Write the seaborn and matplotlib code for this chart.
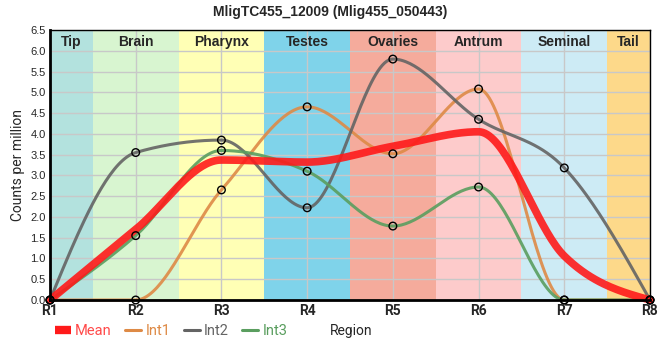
import numpy as np
import pandas as pd
import matplotlib
matplotlib.use('Agg')
import matplotlib.pyplot as plt
import seaborn as sns

# Data
regions = ['R1', 'R2', 'R3', 'R4', 'R5', 'R6', 'R7', 'R8']
mean_vals = [0.0, 1.70, 3.37, 3.32, 3.70, 4.05, 1.06, 0.0]
int1_vals = [0.0, 0.0, 2.65, 4.65, 3.52, 5.08, 0.0, 0.0]
int2_vals = [0.0, 3.55, 3.85, 2.22, 5.80, 4.35, 3.18, 0.0]
int3_vals = [0.0, 1.55, 3.60, 3.10, 1.78, 2.72, 0.0, 0.0]

tissues = ['Tip', 'Brain', 'Pharynx', 'Testes', 'Ovaries', 'Antrum', 'Seminal', 'Tail']
tissue_colors = ['#b3e2de', '#d8f5d0', '#ffffb5', '#7fd3ea', '#f5ab9c', '#fdcbcb', '#cdebf5', '#fdd98a']

series_colors = {'Mean': '#ff1a1a', 'Int1': '#de8a46', 'Int2': '#646464', 'Int3': '#5a9e5f'}


def monotone(x, y, n=40):
    # monotone cubic (like d3 curveMonotoneX)
    x = np.asarray(x, float)
    y = np.asarray(y, float)
    h = np.diff(x)
    s = np.diff(y) / h
    t = np.zeros(len(x))
    for i in range(1, len(x) - 1):
        p = (s[i - 1] * h[i] + s[i] * h[i - 1]) / (h[i - 1] + h[i])
        t[i] = (np.sign(s[i - 1]) + np.sign(s[i])) * min(abs(s[i - 1]), abs(s[i]), 0.5 * abs(p))
    t[0] = (3 * s[0] - t[1]) / 2
    t[-1] = (3 * s[-1] - t[-2]) / 2
    xs, ys = [], []
    for i in range(len(x) - 1):
        u = np.linspace(0, 1, n, endpoint=(i == len(x) - 2))
        h00 = 2 * u**3 - 3 * u**2 + 1
        h10 = u**3 - 2 * u**2 + u
        h01 = -2 * u**3 + 3 * u**2
        h11 = u**3 - u**2
        xs.append(x[i] + u * h[i])
        ys.append(h00 * y[i] + h10 * h[i] * t[i] + h01 * y[i + 1] + h11 * h[i] * t[i + 1])
    return np.concatenate(xs), np.concatenate(ys)


sns.set_style('white')
plt.rcParams['font.family'] = ['Liberation Sans', 'DejaVu Sans']

fig = plt.figure(figsize=(6.6, 3.6), dpi=100)
ax = fig.add_axes([50 / 660, 60 / 360, 600 / 660, 270 / 360])

xpos = np.arange(len(regions))
last = len(regions) - 1
for i, (name, col) in enumerate(zip(tissues, tissue_colors)):
    lo, hi = max(i - 0.5, 0), min(i + 0.5, last)
    ax.axvspan(lo, hi, color=col, lw=0, zorder=0)
    ax.text((lo + hi) / 2, 6.22, name, ha='center', va='center', fontsize=10,
            fontweight='bold', zorder=5)

ax.set_axisbelow(True)
ax.grid(True, color='#c8c8c8', lw=1, zorder=0.5)

frames = []
for name, vals in [('Int1', int1_vals), ('Int2', int2_vals), ('Int3', int3_vals), ('Mean', mean_vals)]:
    xs, ys = monotone(xpos, vals)
    frames.append(pd.DataFrame({'x': xs, 'y': ys, 'series': name}))
curves = pd.concat(frames, ignore_index=True)

for name in ['Int1', 'Int2', 'Int3']:
    sns.lineplot(data=curves[curves.series == name], x='x', y='y', ax=ax,
                 color=series_colors[name], lw=2.2, alpha=0.9, zorder=3, sort=False)
sns.lineplot(data=curves[curves.series == 'Mean'], x='x', y='y', ax=ax,
             color=series_colors['Mean'], lw=5.5, alpha=0.9, zorder=4, sort=False)
for ln in ax.lines:
    ln.set_clip_on(False)

pts = pd.DataFrame({'x': np.tile(xpos, 3), 'y': int1_vals + int2_vals + int3_vals})
sns.scatterplot(data=pts, x='x', y='y', ax=ax, s=30, facecolor='none', edgecolor='black',
                linewidth=1, zorder=6, clip_on=False)

ax.set_xlim(0, 7)
ax.set_ylim(0, 6.5)
ax.set_xticks(xpos)
ax.set_xticklabels(regions, fontsize=10, fontweight='bold', family='Roboto')
ax.set_yticks(np.arange(0, 6.51, 0.5))
ax.set_yticklabels([f'{v:.1f}' for v in np.arange(0, 6.51, 0.5)], fontsize=8)
ax.tick_params(length=0, pad=3)
ax.set_xlabel('')
ax.set_ylabel('Counts per million', fontsize=10, family='Roboto')

for side in ['left', 'bottom']:
    ax.spines[side].set_linewidth(2)
    ax.spines[side].set_color('black')
for side in ['top', 'right']:
    ax.spines[side].set_linewidth(1)
    ax.spines[side].set_color('black')
for sp in ax.spines.values():
    sp.set_zorder(7)

fig.suptitle('MligTC455_12009 (Mlig455_050443)', x=0.5, y=0.985, fontsize=10, fontweight='bold')

handles = [plt.Line2D([], [], color=series_colors['Mean'], lw=6, solid_capstyle='butt')]
handles += [plt.Line2D([], [], color=series_colors[n], lw=2.2) for n in ['Int1', 'Int2', 'Int3']]
leg = fig.legend(handles, ['Mean', 'Int1', 'Int2', 'Int3'], loc='center left',
                 bbox_to_anchor=(0.083, 1 - 331 / 360), ncol=4, frameon=False,
                 handlelength=1.1, handletextpad=0.3, columnspacing=0.9, borderaxespad=0,
                 borderpad=0, prop={'family': 'Roboto', 'size': 10.5})
for txt, n in zip(leg.get_texts(), ['Mean', 'Int1', 'Int2', 'Int3']):
    txt.set_color({'Mean': '#ff4a4a'}.get(n, series_colors[n]))

fig.text(351 / 660, 1 - 331 / 360, 'Region', ha='center', va='center', fontsize=10, family='Roboto')

fig.savefig('out.png', dpi=100)
